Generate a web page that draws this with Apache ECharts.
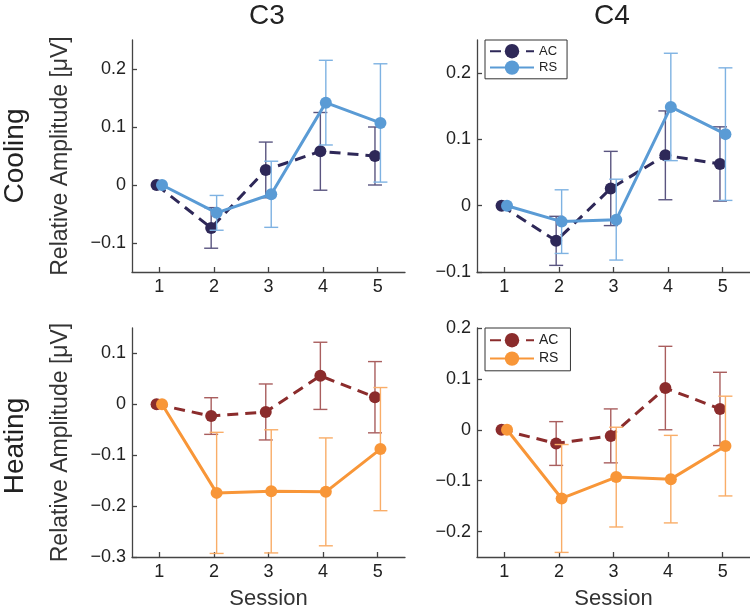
<!DOCTYPE html>
<html>
<head>
<meta charset="utf-8">
<script src="https://cdn.jsdelivr.net/npm/echarts@6/dist/echarts.min.js"></script>
<style>html,body{margin:0;padding:0;background:#fff;}#chart{width:750px;height:611px;}</style>
</head>
<body>
<div id="chart"></div>
<script>
// ---- data ----
const sessions = [1, 2, 3, 4, 5];
const colTitles = ['C3', 'C4'];
const rowTitles = ['Cooling', 'Heating'];
const seriesNames = ['AC', 'RS'];
const yTicksC3Cool = [-0.1, 0, 0.1, 0.2];
const yTicksC4Cool = [-0.1, 0, 0.1, 0.2];
const yTicksC3Heat = [-0.3, -0.2, -0.1, 0, 0.1];
const yTicksC4Heat = [-0.2, -0.1, 0, 0.1, 0.2];
const yRangeC3Cool = [-0.15, 0.25];
const yRangeC4Cool = [-0.1, 0.25];
const yRangeC3Heat = [-0.3, 0.15];
const yRangeC4Heat = [-0.25, 0.2];

const c3CoolAC = [0, -0.074, 0.026, 0.058, 0.050];
const c3CoolACErr = [0, 0.035, 0.048, 0.067, 0.050];
const c3CoolRS = [0, -0.048, -0.016, 0.142, 0.107];
const c3CoolRSErr = [0, 0.030, 0.057, 0.073, 0.102];

const c4CoolAC = [0, -0.053, 0.026, 0.076, 0.063];
const c4CoolACErr = [0, 0.037, 0.056, 0.067, 0.056];
const c4CoolRS = [0, -0.024, -0.021, 0.149, 0.108];
const c4CoolRSErr = [0, 0.048, 0.061, 0.081, 0.100];

const c3HeatAC = [0, -0.023, -0.015, 0.056, 0.014];
const c3HeatACErr = [0, 0.036, 0.055, 0.066, 0.070];
const c3HeatRS = [0, -0.174, -0.171, -0.172, -0.088];
const c3HeatRSErr = [0, 0.119, 0.121, 0.106, 0.121];

const c4HeatAC = [0, -0.027, -0.012, 0.082, 0.041];
const c4HeatACErr = [0, 0.043, 0.053, 0.082, 0.072];
const c4HeatRS = [0, -0.135, -0.093, -0.097, -0.032];
const c4HeatRSErr = [0, 0.106, 0.098, 0.086, 0.098];

// ---- styles ----
const FONT = "'Liberation Sans', Arial, Helvetica, sans-serif";
const colors = {
  cool: { AC: '#2e2858', RS: '#5a9bd5', ACerr: '#5a5580', RSerr: '#7eb2e2' },
  heat: { AC: '#8b2c2c', RS: '#f89638', ACerr: '#a95e5e', RSerr: '#f9ad68' }
};
const OFFSET = 0.05;

const panels = [
  { grid: { left: 132, top: 40, width: 273, height: 232 }, range: yRangeC3Cool, ticks: yTicksC3Cool, kind: 'cool', ac: c3CoolAC, acErr: c3CoolACErr, rs: c3CoolRS, rsErr: c3CoolRSErr, yName: true, xName: false },
  { grid: { left: 477, top: 40, width: 273, height: 232 }, range: yRangeC4Cool, ticks: yTicksC4Cool, kind: 'cool', ac: c4CoolAC, acErr: c4CoolACErr, rs: c4CoolRS, rsErr: c4CoolRSErr, yName: false, xName: false },
  { grid: { left: 132, top: 328, width: 273, height: 232 }, range: yRangeC3Heat, ticks: yTicksC3Heat, kind: 'heat', ac: c3HeatAC, acErr: c3HeatACErr, rs: c3HeatRS, rsErr: c3HeatRSErr, yName: true, xName: true },
  { grid: { left: 477, top: 328, width: 273, height: 232 }, range: yRangeC4Heat, ticks: yTicksC4Heat, kind: 'heat', ac: c4HeatAC, acErr: c4HeatACErr, rs: c4HeatRS, rsErr: c4HeatRSErr, yName: false, xName: true }
];

function fmt(v) {
  if (Math.abs(v) < 1e-9) return '0';
  return (v < 0 ? '\u2212' : '') + Math.abs(v).toFixed(1);
}

const axisLineStyle = { color: '#444', width: 1.3 };
const grids = [], xAxes = [], yAxes = [], series = [];

function errRenderer(color) {
  return function (params, api) {
    const x = api.value(0), lo = api.value(1), hi = api.value(2);
    if (hi - lo < 1e-9) return null;
    const p1 = api.coord([x, hi]);
    const p2 = api.coord([x, lo]);
    const w = 7;
    const style = { stroke: color, lineWidth: 1.4, fill: null };
    return {
      type: 'group',
      children: [
        { type: 'line', shape: { x1: p1[0], y1: p1[1], x2: p2[0], y2: p2[1] }, style: style },
        { type: 'line', shape: { x1: p1[0] - w, y1: p1[1], x2: p1[0] + w, y2: p1[1] }, style: style },
        { type: 'line', shape: { x1: p2[0] - w, y1: p2[1], x2: p2[0] + w, y2: p2[1] }, style: style }
      ]
    };
  };
}

panels.forEach((p, i) => {
  grids.push(Object.assign({ containLabel: false }, p.grid));
  xAxes.push({
    type: 'value', gridIndex: i, min: 0.5, max: 5.5,
    axisLine: { show: true, onZero: false, lineStyle: axisLineStyle },
    axisTick: { show: true, inside: true, length: 5, lineStyle: axisLineStyle, customValues: sessions },
    axisLabel: { show: true, margin: 6, color: '#222', fontSize: 18, fontFamily: FONT, customValues: sessions, formatter: v => String(v) },
    splitLine: { show: false },
    name: p.xName ? 'Session' : '',
    nameLocation: 'middle', nameGap: 31,
    nameTextStyle: { color: '#333', fontSize: 22, fontFamily: FONT }
  });
  yAxes.push({
    type: 'value', gridIndex: i, min: p.range[0], max: p.range[1],
    axisLine: { show: true, onZero: false, lineStyle: axisLineStyle },
    axisTick: { show: true, inside: true, length: 5, lineStyle: axisLineStyle, customValues: p.ticks },
    axisLabel: { show: true, margin: 6, color: '#222', fontSize: 18, fontFamily: FONT, customValues: p.ticks, formatter: fmt },
    splitLine: { show: false },
    name: p.yName ? 'Relative Amplitude [\u03bcV]' : '',
    nameLocation: 'middle', nameGap: 60, nameRotate: 90,
    nameTextStyle: { color: '#333', fontSize: 23, fontFamily: FONT }
  });
  const c = colors[p.kind];
  const acName = 'AC_' + p.kind, rsName = 'RS_' + p.kind;
  series.push({
    type: 'custom', xAxisIndex: i, yAxisIndex: i, name: acName + '_err',
    renderItem: errRenderer(c.ACerr), encode: { x: 0, y: [1, 2] }, z: 1, silent: true,
    data: sessions.map((s, k) => [s - OFFSET, p.ac[k] - p.acErr[k], p.ac[k] + p.acErr[k]])
  });
  series.push({
    type: 'line', xAxisIndex: i, yAxisIndex: i, name: acName,
    data: sessions.map((s, k) => [s - OFFSET, p.ac[k]]),
    symbol: 'circle', symbolSize: 12, showSymbol: true,
    lineStyle: { color: c.AC, width: 3, type: [11, 7] },
    itemStyle: { color: c.AC }, z: 2, animation: false
  });
  series.push({
    type: 'custom', xAxisIndex: i, yAxisIndex: i, name: rsName + '_err',
    renderItem: errRenderer(c.RSerr), encode: { x: 0, y: [1, 2] }, z: 3, silent: true,
    data: sessions.map((s, k) => [s + OFFSET, p.rs[k] - p.rsErr[k], p.rs[k] + p.rsErr[k]])
  });
  series.push({
    type: 'line', xAxisIndex: i, yAxisIndex: i, name: rsName,
    data: sessions.map((s, k) => [s + OFFSET, p.rs[k]]),
    symbol: 'circle', symbolSize: 12, showSymbol: true,
    lineStyle: { color: c.RS, width: 3, type: 'solid' },
    itemStyle: { color: c.RS }, z: 4, animation: false
  });
});

const legendBase = {
  orient: 'vertical', left: 485, itemWidth: 44, itemHeight: 18,
  borderColor: '#333', borderWidth: 1, borderRadius: 0,
  padding: [4, 10, 4, 4], itemGap: 2,
  formatter: n => n.split('_')[0],
  textStyle: { color: '#222', fontFamily: FONT, fontSize: 13 }
};

const option = {
  animation: false,
  backgroundColor: '#fff',
  grid: grids, xAxis: xAxes, yAxis: yAxes, series: series,
  legend: [
    Object.assign({}, legendBase, { top: 40, data: ['AC_cool', 'RS_cool'] }),
    Object.assign({}, legendBase, { top: 328, itemGap: 4, padding: [5, 12, 5, 4], data: ['AC_heat', 'RS_heat'], textStyle: { color: '#222', fontFamily: FONT, fontSize: 14 } })
  ],
  graphic: [
    { type: 'text', x: 267, y: 16, style: { text: colTitles[0], font: '28px ' + FONT, fill: '#222', align: 'center', verticalAlign: 'middle' } },
    { type: 'text', x: 612, y: 16, style: { text: colTitles[1], font: '28px ' + FONT, fill: '#222', align: 'center', verticalAlign: 'middle' } },
    { type: 'text', x: 15, y: 156, rotation: Math.PI / 2, style: { text: rowTitles[0], font: '28px ' + FONT, fill: '#222', align: 'center', verticalAlign: 'middle' } },
    { type: 'text', x: 15, y: 446, rotation: Math.PI / 2, style: { text: rowTitles[1], font: '28px ' + FONT, fill: '#222', align: 'center', verticalAlign: 'middle' } }
  ]
};

const chart = echarts.init(document.getElementById('chart'), null, { renderer: 'canvas' });
chart.setOption(option);
</script>
</body>
</html>
